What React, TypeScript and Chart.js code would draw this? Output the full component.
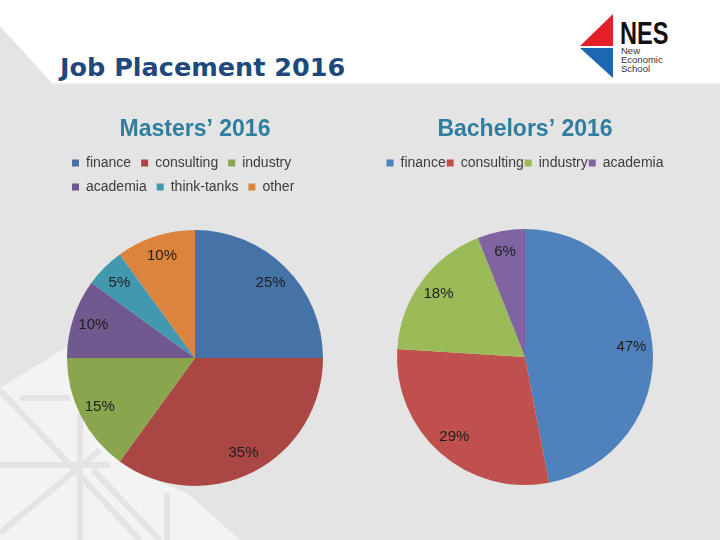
import React, { useEffect, useRef } from "react";
import { Chart, registerables } from "chart.js";

Chart.register(...registerables);

const pageTitle = "Job Placement 2016";

const mastersTitle = "Masters’ 2016";
const mastersCategories = ["finance", "consulting", "industry", "academia", "think-tanks", "other"];
const mastersValues = [25, 35, 15, 10, 5, 10];
const mastersColors = ["#4572A7", "#AA4643", "#89A54E", "#71588F", "#4198AF", "#DB843D"];

const bachelorsTitle = "Bachelors’ 2016";
const bachelorsCategories = ["finance", "consulting", "industry", "academia"];
const bachelorsValues = [47, 29, 18, 6];
const bachelorsColors = ["#4F81BD", "#C0504D", "#9BBB59", "#8064A2"];

const FONT = "'Liberation Sans', Arial, sans-serif";

const pctLabels = {
  id: "pctLabels",
  afterDatasetsDraw(chart: any) {
    const ctx = chart.ctx;
    const meta = chart.getDatasetMeta(0);
    const data = chart.data.datasets[0].data;
    ctx.save();
    ctx.font = `15px ${FONT}`;
    ctx.fillStyle = "#1e1e1e";
    ctx.textAlign = "center";
    ctx.textBaseline = "middle";
    meta.data.forEach((arc: any, i: number) => {
      const p = arc.getProps(["x", "y", "startAngle", "endAngle", "outerRadius"], true);
      const mid = (p.startAngle + p.endAngle) / 2;
      const r = p.outerRadius * 0.835;
      ctx.fillText(data[i] + "%", p.x + Math.cos(mid) * r, p.y + Math.sin(mid) * r);
    });
    ctx.restore();
  },
};

function makeConfig(
  title: string,
  labels: string[],
  values: number[],
  colors: string[],
  titlePad: { top: number; bottom: number },
  legendPad: number,
  legendAlign: "start" | "center"
): any {
  return {
    type: "pie",
    data: {
      labels,
      datasets: [
        {
          data: values,
          backgroundColor: colors,
          borderWidth: 0,
          radius: 128,
        },
      ],
    },
    options: {
      responsive: false,
      animation: false,
      devicePixelRatio: 1,
      layout: { padding: 0 },
      plugins: {
        tooltip: { enabled: false },
        title: {
          display: true,
          text: title,
          color: "#2f7ea0",
          font: { family: FONT, size: 23, weight: "bold" },
          padding: titlePad,
        },
        legend: {
          display: true,
          position: "top",
          align: legendAlign,
          labels: {
            color: "#3c3c3c",
            font: { family: FONT, size: 14 },
            boxWidth: 7,
            boxHeight: 7,
            padding: legendPad,
          },
        },
      },
    },
    plugins: [pctLabels],
  };
}

function PieCanvas(props: {
  cfg: any;
  left: number;
  top: number;
  width: number;
  height: number;
}) {
  const ref = useRef<HTMLCanvasElement | null>(null);
  useEffect(() => {
    if (!ref.current) return;
    const chart = new Chart(ref.current, props.cfg);
    return () => chart.destroy();
  }, []);
  return (
    <canvas
      ref={ref}
      width={props.width}
      height={props.height}
      style={{
        position: "absolute",
        left: props.left,
        top: props.top,
        width: props.width,
        height: props.height,
      }}
    />
  );
}

export default function App() {
  const mastersCfg = makeConfig(
    mastersTitle,
    mastersCategories,
    mastersValues,
    mastersColors,
    { top: 6, bottom: 2.4 },
    10,
    "start"
  );
  const bachelorsCfg = makeConfig(
    bachelorsTitle,
    bachelorsCategories,
    bachelorsValues,
    bachelorsColors,
    { top: 6, bottom: 11.4 },
    1,
    "center"
  );
  return (
    <div
      style={{
        position: "fixed",
        left: 0,
        top: 0,
        width: 720,
        height: 540,
        overflow: "hidden",
        background: "#e4e4e4",
        fontFamily: FONT,
      }}
    >
      <svg
        width={720}
        height={540}
        style={{ position: "absolute", left: 0, top: 0 }}
      >
        <polygon points="0,0 720,0 720,83 52,83 0,26" fill="#ffffff" />
        <line x1="52" y1="84" x2="720" y2="84" stroke="#ececec" strokeWidth="2" />
        <polygon points="0,388 70,345 130,470 187,493 240,540 0,540" fill="#f3f3f3" />
        <g stroke="#e4e4e4" strokeWidth="6" fill="none">
          <line x1="0" y1="390" x2="140" y2="540" />
          <line x1="20" y1="398" x2="70" y2="398" />
          <line x1="80" y1="413" x2="80" y2="540" />
          <line x1="0" y1="465" x2="110" y2="465" />
          <line x1="0" y1="533" x2="100" y2="450" />
          <line x1="167" y1="493" x2="167" y2="540" />
          <line x1="93" y1="470" x2="160" y2="540" />
        </g>
        <polygon points="580,46 613,14 613,46" fill="#e3202a" />
        <polygon points="580,48 613,48 613,78" fill="#1d66b0" />
      </svg>
      <div
        style={{
          position: "absolute",
          left: 60,
          top: 50,
          fontFamily: "'DejaVu Sans', Verdana, sans-serif",
          fontWeight: "bold",
          fontSize: 25.5,
          color: "#1f497d",
          whiteSpace: "nowrap",
          lineHeight: "34px",
        }}
      >
        {pageTitle}
      </div>
      <div
        style={{
          position: "absolute",
          left: 620,
          top: 17,
          fontFamily: FONT,
          fontWeight: "bold",
          fontSize: 31,
          color: "#111",
          lineHeight: "34px",
          transform: "scaleX(0.76)",
          transformOrigin: "left top",
          whiteSpace: "nowrap",
        }}
      >
        NES
      </div>
      <div
        style={{
          position: "absolute",
          left: 621,
          top: 46,
          fontFamily: FONT,
          fontSize: 9.5,
          color: "#333",
          lineHeight: "9px",
        }}
      >
        New
        <br />
        Economic
        <br />
        School
      </div>
      <PieCanvas cfg={mastersCfg} left={62} top={110} width={266} height={402} />
      <PieCanvas cfg={bachelorsCfg} left={375} top={110} width={300} height={424} />
    </div>
  );
}
